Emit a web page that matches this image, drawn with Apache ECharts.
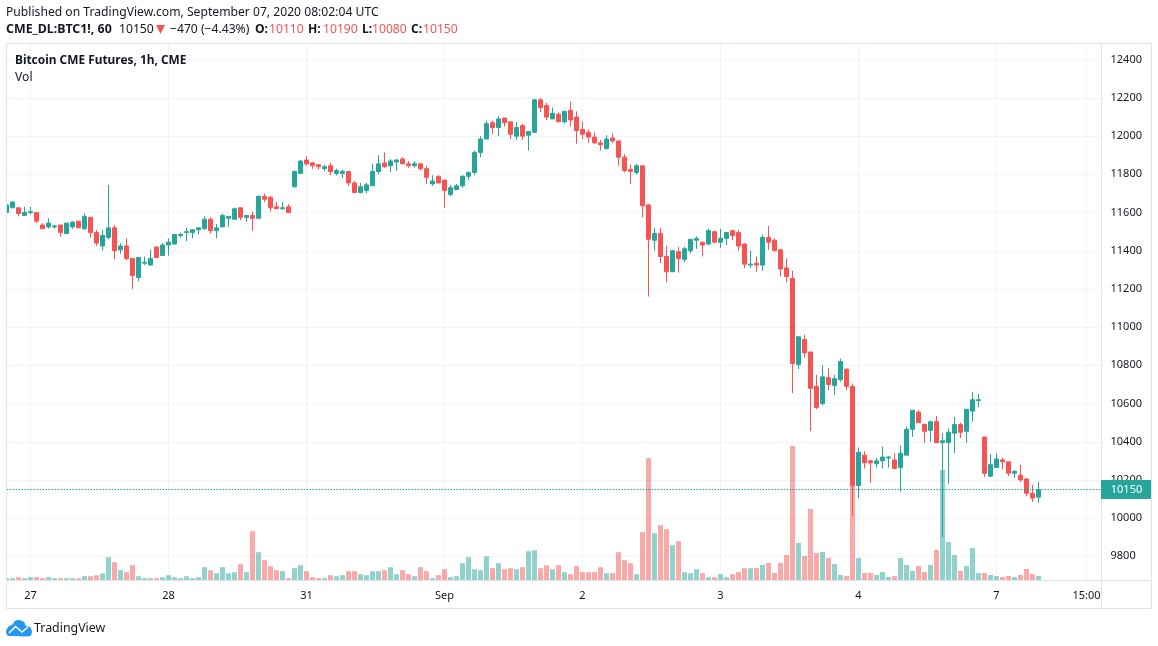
<!DOCTYPE html>
<html><head><meta charset="utf-8">
<style>html,body{margin:0;padding:0;background:#fff}#c{width:1158px;height:646px}</style>
<script src="https://cdn.jsdelivr.net/npm/echarts@6/dist/echarts.min.js"></script>
</head><body><div id="c"></div>
<script>
const opens = [11600,11625,11625,11585,11600,11600,11535,11525,11525,11535,11490,11525,11555,11515,11575,11495,11425,11470,11520,11405,11425,11360,11260,11335,11325,11420,11375,11430,11435,11480,11495,11495,11510,11515,11565,11505,11525,11570,11565,11625,11575,11585,11570,11685,11680,11630,11620,11630,
11735,11805,11875,11860,11850,11830,11845,11805,11805,11815,11755,11705,11715,11740,11815,11860,11845,11865,11880,11855,11845,11855,11830,11750,11790,11770,11695,11720,11740,11790,11810,11915,11985,12070,12045,12095,12075,12000,12055,12005,12020,12190,12160,12090,12115,12075,12135,12100,12035,
12020,11995,11965,11935,11990,11975,11890,11825,11810,11845,11640,11455,11490,11370,11290,11395,11355,11400,11455,11445,11435,11500,11445,11465,11505,11495,11435,11325,11335,11325,11470,11455,11405,11310,
11255,10805,10935,10870,10690,10600,10735,10695,10725,10780,10690,10170,10330,10300,10285,10300,10315,10305,10265,10330,10465,10555,10490,10460,10505,10395,10395,10445,10490,10455,10560,10615,10425,10220,10265,10305,10295,10235,10225,10205,10130,10110];
const highs = [11640,11660,11625,11630,11630,11600,11545,11570,11535,11535,11545,11555,11555,11595,11575,11510,11510,11745,11535,11440,11465,11360,11365,11370,11405,11420,11440,11465,11485,11495,11520,11510,11520,11580,11575,11540,11595,11580,11625,11625,11585,11605,11690,11700,11685,11655,11655,11645,
11820,11875,11895,11865,11855,11850,11860,11830,11825,11815,11765,11755,11755,11855,11900,11915,11880,11880,11890,11870,11870,11855,11845,11795,11795,11770,11745,11750,11795,11815,11925,12000,12080,12080,12105,12095,12075,12075,12065,12025,12195,12200,12175,12150,12125,12130,12180,12130,12075,
12035,12020,11980,12005,12015,11975,11905,11850,11855,11845,11645,11520,11520,11425,11405,11420,11420,11460,11475,11445,11515,11500,11515,11495,11510,11510,11440,11400,11370,11485,11530,11465,11410,11360,
11295,10950,10960,10870,10750,10800,10785,10750,10835,10785,10705,10370,10350,10305,10315,10375,10325,10340,10380,10480,10565,10565,10495,10510,10535,10445,10470,10530,10500,10570,10660,10650,10425,10335,10340,10315,10295,10250,10280,10210,10175,10190];
const lows = [11595,11625,11580,11585,11590,11545,11515,11515,11515,11475,11490,11515,11520,11510,11470,11425,11400,11460,11355,11385,11350,11200,11240,11325,11325,11365,11375,11375,11435,11470,11450,11465,11485,11510,11490,11465,11525,11525,11565,11560,11550,11505,11570,11655,11605,11620,11615,11600,
11730,11805,11845,11830,11825,11815,11795,11795,11780,11740,11705,11700,11700,11740,11800,11835,11810,11820,11855,11835,11835,11820,11750,11740,11755,11625,11685,11720,11730,11770,11795,11890,11985,12010,12000,12050,11985,11980,11980,11925,12020,12125,12085,12090,12075,12065,12050,11960,11985,
11965,11960,11925,11930,11965,11845,11810,11750,11800,11575,11160,11400,11335,11235,11290,11285,11340,11385,11410,11370,11430,11440,11415,11430,11455,11400,11310,11310,11290,11295,11405,11400,11265,11235,
10655,10780,10840,10455,10570,10590,10670,10645,10715,10670,10010,10105,10260,10185,10265,10260,10265,10260,10140,10330,10425,10500,10395,10400,10395,9900,10180,10340,10420,10395,10505,10580,10215,10215,10265,10255,10220,10210,10190,10115,10085,10080];
const closes = [11640,11655,11595,11600,11605,11555,11515,11545,11530,11495,11545,11550,11520,11580,11495,11440,11480,11520,11400,11425,11360,11270,11365,11340,11360,11365,11430,11445,11485,11485,11500,11510,11520,11565,11505,11520,11585,11580,11620,11575,11585,11570,11685,11670,11625,11620,11625,11600,
11815,11870,11855,11845,11840,11840,11815,11820,11815,11755,11705,11735,11745,11815,11855,11840,11870,11875,11855,11845,11855,11830,11785,11765,11755,11715,11730,11740,11790,11810,11915,11985,12065,12045,12090,12070,12010,12045,12000,12025,12190,12150,12100,12120,12075,12130,12085,12030,12010,
11995,11965,11955,11985,11975,11890,11820,11815,11845,11635,11460,11490,11370,11290,11400,11360,11410,11460,11465,11430,11505,11445,11465,11495,11480,11425,11330,11330,11325,11470,11445,11400,11305,11265,
10810,10950,10865,10680,10580,10740,10700,10730,10820,10690,10170,10345,10290,10290,10300,10320,10320,10260,10340,10465,10565,10500,10455,10505,10395,10405,10450,10490,10450,10570,10620,10620,10235,10280,10310,10295,10235,10245,10200,10130,10105,10150];
const volumes = [2.3,2.3,3.3,2.3,3.3,3.3,2.3,3.3,2.3,2.3,2.3,2.3,2.3,4.3,4.3,5.3,7.3,23.3,18.3,10.3,8.3,15.3,4.3,2.3,2.3,2.3,3.3,5.3,3.3,2.3,4.3,2.3,3.3,13.3,10.3,7.3,13.3,7.3,8.3,16.3,8.3,49.3,28.3,20.3,14.3,10.3,9.3,2.3,12.3,15.3,9.3,3.3,2.3,2.3,5.3,4.3,5.3,9.3,9.3,6.3,5.3,9.3,9.3,10.3,13.3,6.3,
10.3,6.3,4.3,13.3,9.3,2.3,5.3,11.3,3.3,4.3,17.3,23.3,11.3,10.3,24.3,12.3,17.3,11.3,12.3,11.3,13.3,29.3,30.3,12.3,15.3,11.3,15.3,8.3,6.3,14.3,8.3,8.3,8.3,13.3,7.3,7.3,28.3,20.3,17.3,6.3,48.3,122.3,47.3,55.3,51.3,35.3,39.3,8.3,7.3,11.3,7.3,3.3,3.3,6.3,3.3,6.3,8.3,12.3,12.3,
12.5,15.5,17.5,7.5,17.5,25.5,134.5,37.5,24.5,71.5,27.5,28.5,22.5,16.5,5.5,4.5,95,22.5,7.5,7.5,5.5,8.5,3.5,4.5,22.5,15.5,9.5,14.5,8.5,15.5,30.5,110.5,38.5,25.5,9.5,14.5,32.5,7.5,7.5,5.5,4.5,3.5,4.5,3.5,5.5,11.5,6.5,4.5];
const dayLabels = ['27','28','31','Sep','2','3','4','7'];
const endLabel = '15:00';
const priceTicks = [9800,10000,10200,10400,10600,10800,11000,11200,11400,11600,11800,12000,12200,12400];
const barsPerDay = 23, firstDayIndex = 4, endLabelIndex = 180, slots = 184;

const UP = '#26a69a', DOWN = '#f65353', GRID = '#f0f3fa', FRAME = '#e0e3eb', INK = '#131722';
const FONT = '"Noto Sans", sans-serif';
const categories = Array.from({length: slots}, (_, i) => String(i));
const labelAt = i => {
  if (i === endLabelIndex) return endLabel;
  const d = (i - firstDayIndex) / barsPerDay;
  return Number.isInteger(d) && d >= 0 && d < dayLabels.length ? dayLabels[d] : '';
};
const candleData = opens.map((o, i) => [o, closes[i], lows[i], highs[i]]);
const volumeData = volumes.map((v, i) => ({value: v, itemStyle: {color: closes[i] >= opens[i] ? 'rgba(38,166,154,0.5)' : 'rgba(246,83,83,0.5)'}}));
const last = closes[closes.length - 1];

const txt = (x, y, text, o = {}) => ({type: 'text', x, y, z: 110, silent: true,
  style: {text, font: `${o.bold ? 'bold ' : ''}${o.size || 12.15}px ${FONT}`, fill: o.fill || INK, verticalAlign: 'middle', align: o.align || 'left'}});
const rule = (x1, y1, x2, y2) => ({type: 'line', z: 105, silent: true, shape: {x1, y1, x2, y2}, style: {stroke: FRAME, lineWidth: 1}});

const chart = echarts.init(document.getElementById('c'), null, {renderer: 'canvas'});
chart.setOption({
  animation: false,
  backgroundColor: '#fff',
  grid: {left: 6.5, top: 44, width: 1098, height: 536.5, containLabel: false},
  xAxis: {
    type: 'category', data: categories, boundaryGap: false,
    axisLine: {show: false}, axisTick: {show: false},
    axisLabel: {interval: i => labelAt(i) !== '', formatter: (v, i) => labelAt(i), color: INK, fontFamily: FONT, fontSize: 11, margin: 10, hideOverlap: false},
    splitLine: {show: true, alignWithLabel: true, interval: i => labelAt(i) !== '', lineStyle: {color: GRID, width: 1}}
  },
  yAxis: [{
    type: 'value', position: 'right', offset: -3.5,
    min: 9673.6, max: 12482.5, scale: true,
    axisLine: {show: false},
    axisTick: {show: false, customValues: priceTicks},
    axisLabel: {customValues: priceTicks, formatter: v => String(v), color: INK, fontFamily: FONT, fontSize: 11, margin: 9.5, align: 'left', padding: [2, 0, 0, 0]},
    splitLine: {show: true, lineStyle: {color: GRID, width: 1}}
  }, {
    type: 'value', show: false, min: 0, max: 536.5, splitLine: {show: false}
  }],
  series: [{
    type: 'bar', name: 'Vol', yAxisIndex: 1, data: volumeData, barWidth: 5, z: 2, silent: true, clip: true
  }, {
    type: 'candlestick', name: 'Bitcoin CME Futures', yAxisIndex: 0, data: candleData, barWidth: 4, z: 3, silent: true, clip: true,
    itemStyle: {color: UP, color0: DOWN, borderColor: UP, borderColor0: DOWN, borderWidth: 1},
    markLine: {silent: true, symbol: 'none', z: 4, label: {show: false}, animation: false,
      lineStyle: {color: UP, type: [1.5, 1.5], width: 1, opacity: 1}, data: [{yAxis: last}]}
  }],
  graphic: {elements: [
    {type: 'rect', z: 100, silent: true, shape: {x: 0, y: 44, width: 6.5, height: 537}, style: {fill: '#fff'}},
    {type: 'rect', z: 100, silent: true, shape: {x: 1102, y: 44, width: 3, height: 536}, style: {fill: '#fff'}},
    {type: 'rect', z: 104, silent: true, shape: {x: 6.5, y: 43.5, width: 1145, height: 565}, style: {fill: 'none', stroke: FRAME, lineWidth: 1}},
    rule(1101.5, 43.5, 1101.5, 608.5),
    rule(6.5, 580.5, 1151.5, 580.5),
    {type: 'rect', z: 106, silent: true, shape: {x: 1101, y: 480, width: 50, height: 19}, style: {fill: UP}},
    txt(1126.5, 490, String(last), {fill: '#fff', align: 'center', size: 11}),
    txt(6, 12.5, 'Published on TradingView.com, September 07, 2020 08:02:04 UTC'),
    txt(6, 29.5, 'CME_DL:BTC1!, 60', {bold: true, size: 12.4}),
    txt(119, 29.5, '10150'),
    {type: 'polygon', z: 110, silent: true, shape: {points: [[156, 25], [165, 25], [160.5, 34]]}, style: {fill: DOWN}},
    txt(170, 29.5, '\u2212470 (\u22124.43%)'),
    txt(255, 29.5, 'O:', {bold: true}), txt(269, 29.5, '10110', {fill: DOWN}),
    txt(308, 29.5, 'H:', {bold: true}), txt(323, 29.5, '10190', {fill: DOWN}),
    txt(362, 29.5, 'L:', {bold: true}), txt(372, 29.5, '10080', {fill: DOWN}),
    txt(411, 29.5, 'C:', {bold: true}), txt(423, 29.5, '10150', {fill: DOWN}),
    txt(15, 60.5, 'Bitcoin CME Futures, 1h, CME', {bold: true, size: 11.9}),
    txt(15, 77.5, 'Vol'),
    {type: 'polygon', z: 110, silent: true, shape: {smooth: 0.25, points: [[6, 631], [9, 626], [12, 625], [15, 621], [19, 620], [24, 622], [26, 626], [30, 627], [32, 632], [30, 636], [10, 636], [7, 635]]}, style: {fill: '#2196f3'}},
    {type: 'polyline', z: 111, silent: true, shape: {points: [[9, 633], [15.5, 626.5], [22, 632], [28, 627]]}, style: {stroke: '#fff', lineWidth: 1.6, fill: 'none'}},
    txt(34, 628.5, 'TradingView', {size: 12.4})
  ]}
});
</script></body></html>
